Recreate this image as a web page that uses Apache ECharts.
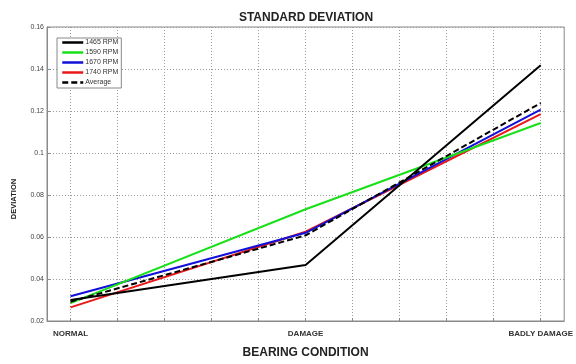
<!DOCTYPE html>
<html>
<head>
<meta charset="utf-8">
<script src="https://cdn.jsdelivr.net/npm/echarts@6/dist/echarts.min.js"></script>
<style>
html,body{margin:0;padding:0;background:#fff;}
#c{width:576px;height:364px;}
</style>
</head>
<body>
<div id="c"></div>
<script>
var categories = ['NORMAL', 'DAMAGE', 'BADLY DAMAGE'];
var seriesNames = ['1465 RPM', '1590 RPM', '1670 RPM', '1740 RPM', 'Average'];
var rpm1465 = [0.0300, 0.0467, 0.1418];
var rpm1590 = [0.0285, 0.0732, 0.1143];
var rpm1670 = [0.0318, 0.0620, 0.1207];
var rpm1740 = [0.0265, 0.0625, 0.1185];
var average = [0.0292, 0.0608, 0.1238];
var yTicks = [0.02, 0.04, 0.06, 0.08, 0.1, 0.12, 0.14, 0.16];
var xGridSteps = 10; // minor gridlines between first and last category

var values = [rpm1465, rpm1590, rpm1670, rpm1740, average];
var colors = ['#000000', '#18e018', '#1010d8', '#e81818', '#000000'];

var xGrid = [];
for (var i = 0; i <= xGridSteps; i++) {
  xGrid.push(+(i * (categories.length - 1) / xGridSteps).toFixed(4));
}
var xLabelVals = categories.map(function (c, i) { return i; });

var series = values.map(function (vals, s) {
  return {
    name: seriesNames[s],
    type: 'line',
    symbol: 'none',
    showSymbol: false,
    data: vals.map(function (v, i) { return [i, v]; }),
    lineStyle: {
      color: colors[s],
      width: 2,
      type: s === 4 ? [6, 3] : 'solid'
    },
    itemStyle: { color: colors[s] },
    z: s === 4 ? 10 : 5 - s
  };
});

var chart = echarts.init(document.getElementById('c'), null, { renderer: 'canvas' });
chart.setOption({
  backgroundColor: '#ffffff',
  animation: false,
  title: {
    text: 'STANDARD DEVIATION',
    left: 301,
    textAlign: 'center',
    top: 7,
    textStyle: { fontFamily: 'Liberation Sans, Arial', fontSize: 12, fontWeight: 'bold', color: '#222' }
  },
  legend: {
    orient: 'vertical',
    left: 57,
    top: 38,
    data: seriesNames,
    itemWidth: 21,
    itemHeight: 8,
    itemGap: 3,
    padding: [1, 3, 2, 4],
    backgroundColor: '#fff',
    borderColor: '#888',
    borderWidth: 1,
    itemStyle: { opacity: 0 },
    lineStyle: { width: 2.5 },
    textStyle: { fontFamily: 'Liberation Sans, Arial', fontSize: 7, color: '#333', padding: [0, 0, 0, -3] }
  },
  grid: {
    left: 47, right: 9, top: 27, bottom: 43,
    show: true, borderColor: '#8a8a8a', borderWidth: 1, backgroundColor: '#fff'
  },
  xAxis: {
    type: 'value',
    min: -0.1,
    max: 2.1,
    name: 'BEARING CONDITION',
    nameLocation: 'middle',
    nameGap: 26,
    nameTextStyle: { fontFamily: 'Liberation Sans, Arial', fontSize: 12, fontWeight: 'bold', color: '#222' },
    axisLine: { show: true, onZero: false, lineStyle: { color: '#8a8a8a' } },
    axisTick: { show: true, inside: true, length: 3, customValues: xGrid, lineStyle: { color: '#8a8a8a' } },
    axisLabel: {
      customValues: xLabelVals,
      margin: 9,
      fontFamily: 'Liberation Sans, Arial', fontSize: 8, fontWeight: 'bold', color: '#333',
      formatter: function (v) { return categories[Math.round(v)] || ''; }
    },
    splitLine: { show: true, lineStyle: { color: '#9a9a9a', type: [1, 2], width: 1 } }
  },
  yAxis: {
    type: 'value',
    min: 0.02,
    max: 0.16,
    interval: 0.02,
    name: 'DEVIATION',
    nameLocation: 'middle',
    nameGap: 29,
    nameTextStyle: { fontFamily: 'Liberation Sans, Arial', fontSize: 7.5, fontWeight: 'bold', color: '#222', padding: [0, 50, 0, 0] },
    axisLine: { show: true, onZero: false, lineStyle: { color: '#8a8a8a' } },
    axisTick: { show: true, inside: true, length: 3, lineStyle: { color: '#8a8a8a' } },
    axisLabel: {
      margin: 3,
      fontFamily: 'Liberation Sans, Arial', fontSize: 7, color: '#444',
      formatter: function (v) {
        var best = yTicks.reduce(function (a, b) { return Math.abs(b - v) < Math.abs(a - v) ? b : a; });
        return String(best);
      }
    },
    splitLine: { show: true, lineStyle: { color: '#9a9a9a', type: [1, 2], width: 1 } }
  },
  series: series
});
</script>
</body>
</html>
